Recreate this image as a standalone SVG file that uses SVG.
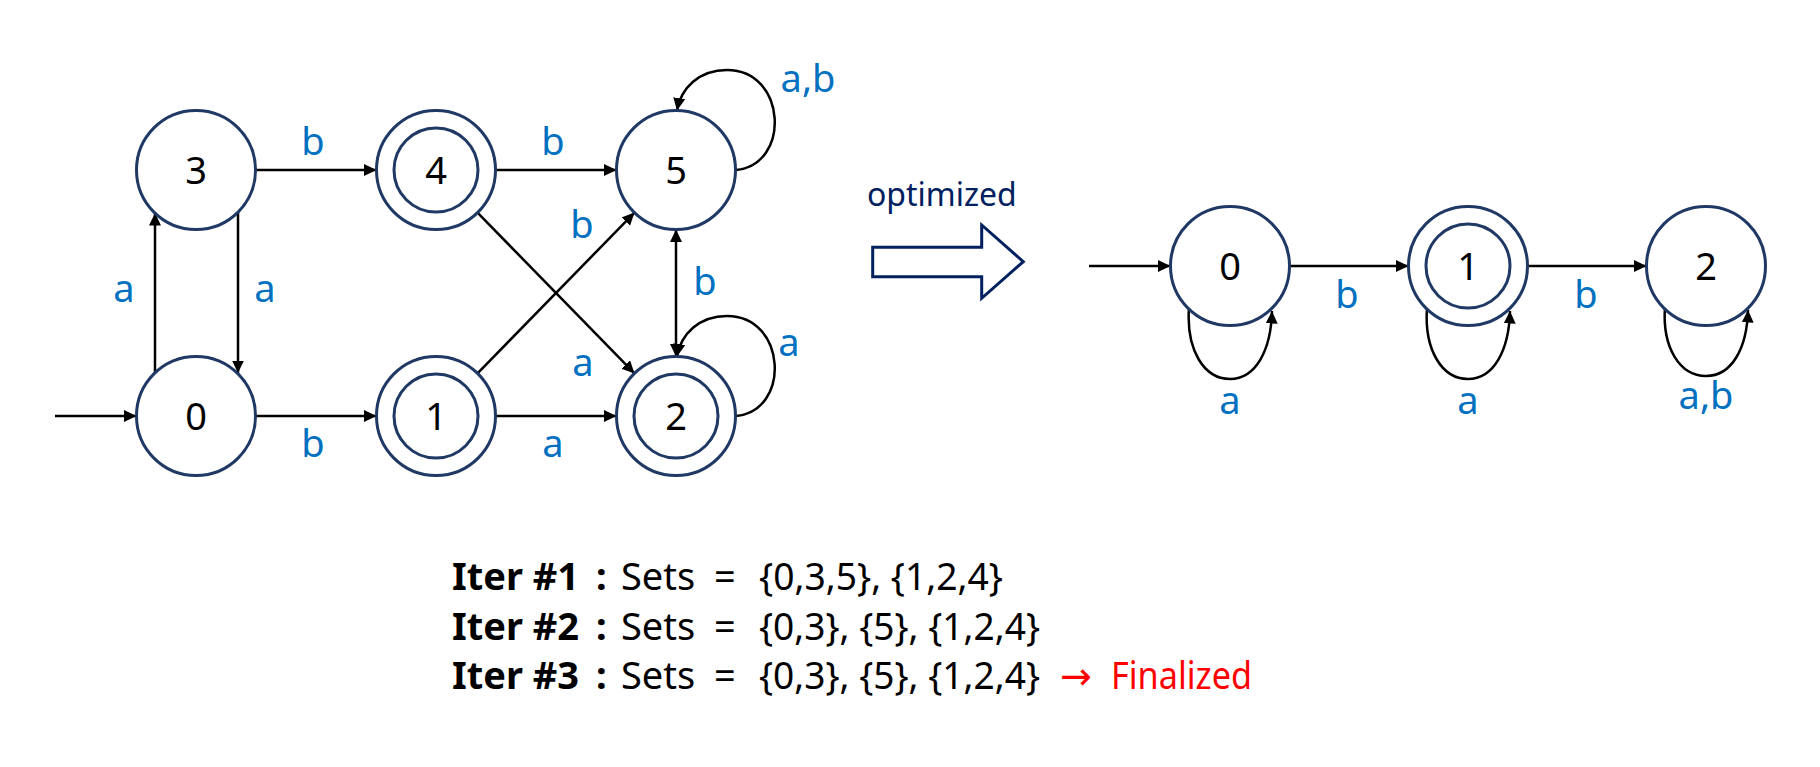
<svg xmlns="http://www.w3.org/2000/svg" width="1820" height="767" viewBox="0 0 1820 767">
<style>
  .st { fill: #ffffff; stroke: #1F3864; stroke-width: 3; }
  .in { fill: none; stroke: #1F3864; stroke-width: 3; }
  .nl { font-family: "Noto Sans", "Liberation Sans", sans-serif; font-size: 38px; fill: #000000; text-anchor: middle; }
  .el { font-family: "Noto Sans", "Liberation Sans", sans-serif; font-size: 38px; fill: #0070C0; text-anchor: middle; }
  .e { fill: none; stroke: #000000; stroke-width: 2.5; marker-end: url(#ah); }
  .tx { font-family: "Noto Sans", "Liberation Sans", sans-serif; font-size: 38px; fill: #000000; }
  .b { font-weight: bold; }
</style>
<defs>
  <marker id="ah" markerUnits="userSpaceOnUse" markerWidth="14" markerHeight="13" refX="12.5" refY="6" orient="auto-start-reverse">
    <path d="M0,0 L12.5,6 L0,12 z" fill="#000000"/>
  </marker>
</defs>
<rect width="1820" height="767" fill="#ffffff"/>

<g id="connectors">
  <!-- left automaton -->
  <path class="e" d="M55,416 L136.5,416"/>
  <path class="e" d="M256,416 L376.5,416"/>
  <path class="e" d="M496,416 L616.5,416"/>
  <path class="e" d="M256,170 L376.5,170"/>
  <path class="e" d="M496,170 L616.5,170"/>
  <path class="e" d="M155,373 L155,213"/>
  <path class="e" d="M238,212 L238,373"/>
  <path class="e" d="M477.5,212.6 L634.5,373.4"/>
  <path class="e" d="M477.5,373.4 L634.5,212.6"/>
  <path class="e" style="marker-start:url(#ah)" d="M676,356.5 L676,229.5"/>
  <path class="e" d="M736,170 C791,165 787,70 727,70 C699,70 681,88 677,110.5"/>
  <path class="e" d="M736,416 C791,411 787,316 727,316 C699,316 681,334 677,356.5"/>
  <!-- right automaton -->
  <path class="e" d="M1089,266 L1170.5,266"/>
  <path class="e" d="M1289.5,266 L1408.5,266"/>
  <path class="e" d="M1527.5,266 L1646.5,266"/>
  <path class="e" d="M1189,308 C1186,350 1204,379 1230,379 C1256,379 1271,350 1272,311"/>
  <path class="e" d="M1427,308 C1424,350 1442,379 1468,379 C1494,379 1509,350 1510,311"/>
  <path class="e" d="M1665,307 C1662,348 1680,376 1706,376 C1732,376 1747,348 1748,310"/>
</g>

<g id="edge-labels">
  <text class="el" x="313" y="155">b</text>
  <text class="el" x="553" y="155">b</text>
  <text class="el" x="124" y="302">a</text>
  <text class="el" x="265" y="302">a</text>
  <text class="el" x="582" y="238">b</text>
  <text class="el" x="705" y="295">b</text>
  <text class="el" x="808" y="92">a,b</text>
  <text class="el" x="789" y="356">a</text>
  <text class="el" x="583" y="376">a</text>
  <text class="el" x="313" y="457">b</text>
  <text class="el" x="553" y="457">a</text>
  <text class="el" x="1347" y="308">b</text>
  <text class="el" x="1586" y="308">b</text>
  <text class="el" x="1230" y="414">a</text>
  <text class="el" x="1468" y="414">a</text>
  <text class="el" x="1706" y="409">a,b</text>
</g>

<g id="L3"><circle class="st" cx="196" cy="170" r="59.5"/><text class="nl" x="196" y="184">3</text></g>
<g id="L4"><circle class="st" cx="436" cy="170" r="59.5"/><circle class="in" cx="436" cy="170" r="42"/><text class="nl" x="436" y="184">4</text></g>
<g id="L5"><circle class="st" cx="676" cy="170" r="59.5"/><text class="nl" x="676" y="184">5</text></g>
<g id="L0"><circle class="st" cx="196" cy="416" r="59.5"/><text class="nl" x="196" y="430">0</text></g>
<g id="L1"><circle class="st" cx="436" cy="416" r="59.5"/><circle class="in" cx="436" cy="416" r="42"/><text class="nl" x="436" y="430">1</text></g>
<g id="L2"><circle class="st" cx="676" cy="416" r="59.5"/><circle class="in" cx="676" cy="416" r="42"/><text class="nl" x="676" y="430">2</text></g>

<g id="R0"><circle class="st" cx="1230" cy="266" r="59.5"/><text class="nl" x="1230" y="280">0</text></g>
<g id="R1"><circle class="st" cx="1468" cy="266" r="59.5"/><circle class="in" cx="1468" cy="266" r="42"/><text class="nl" x="1468" y="280">1</text></g>
<g id="R2"><circle class="st" cx="1706" cy="266" r="59.5"/><text class="nl" x="1706" y="280">2</text></g>

<g id="optimized-arrow">
  <text x="867" y="206" font-family="'Noto Sans', 'Liberation Sans', sans-serif" font-size="32" fill="#002060">optimized</text>
  <polygon points="872.7,247.3 981.7,247.3 981.7,225 1023.3,261.7 981.7,298.3 981.7,276.7 872.7,276.7" fill="#ffffff" stroke="#002060" stroke-width="3"/>
</g>

<g id="iterations">
  <text class="tx" y="590"><tspan class="b" x="452">Iter #1</tspan><tspan class="b" x="596">:</tspan><tspan x="621">Sets</tspan><tspan x="714">=</tspan><tspan x="759" textLength="244" lengthAdjust="spacingAndGlyphs">{0,3,5}, {1,2,4}</tspan></text>
  <text class="tx" y="640"><tspan class="b" x="452">Iter #2</tspan><tspan class="b" x="596">:</tspan><tspan x="621">Sets</tspan><tspan x="714">=</tspan><tspan x="759" textLength="281" lengthAdjust="spacingAndGlyphs">{0,3}, {5}, {1,2,4}</tspan></text>
  <text class="tx" y="689"><tspan class="b" x="452">Iter #3</tspan><tspan class="b" x="596">:</tspan><tspan x="621">Sets</tspan><tspan x="714">=</tspan><tspan x="759" textLength="281" lengthAdjust="spacingAndGlyphs">{0,3}, {5}, {1,2,4}</tspan><tspan x="1060" fill="#FF0000" font-family="'DejaVu Sans', sans-serif" font-size="38">→</tspan><tspan x="1111" fill="#FF0000" textLength="141" lengthAdjust="spacingAndGlyphs">Finalized</tspan></text>
</g>
</svg>
